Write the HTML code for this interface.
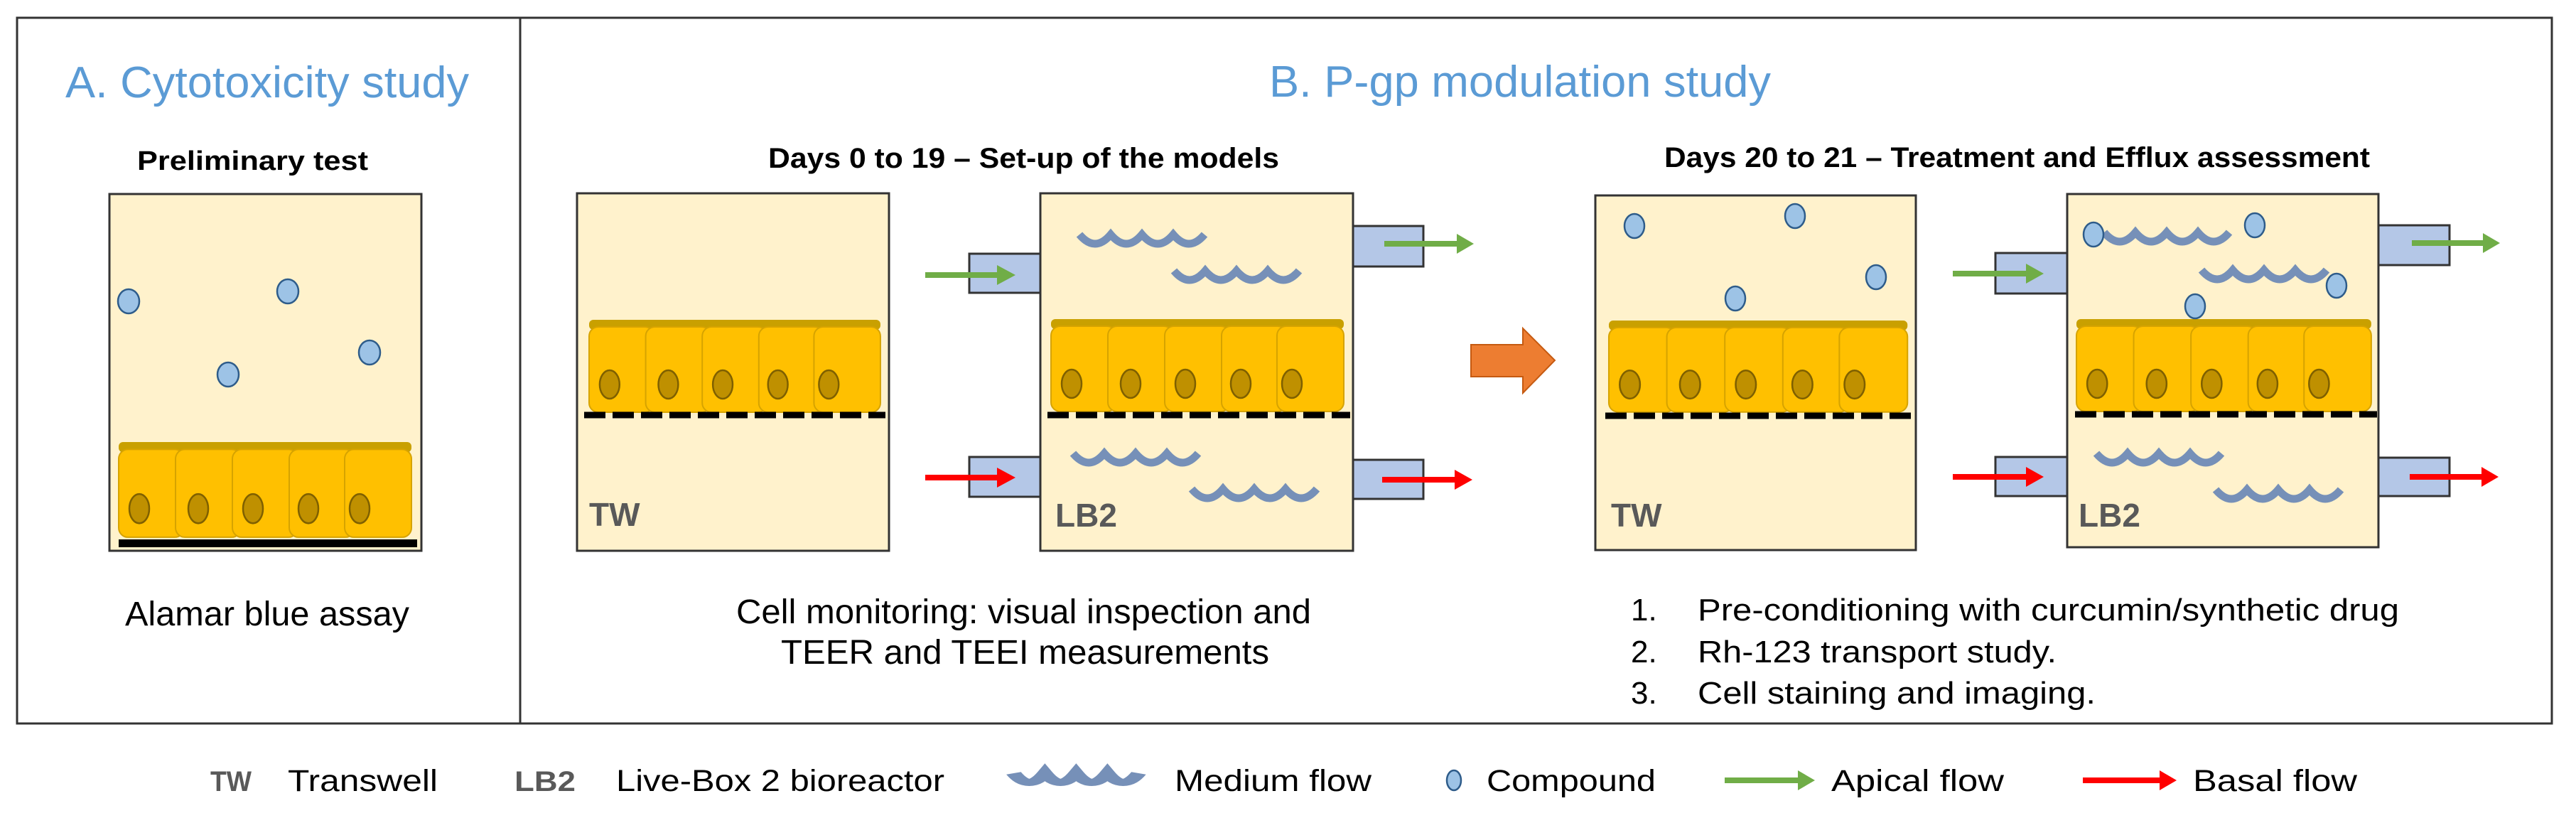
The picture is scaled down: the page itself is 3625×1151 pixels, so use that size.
<!DOCTYPE html>
<html><head><meta charset="utf-8"><style>
html,body{margin:0;padding:0;background:#fff;}
svg{display:block;}
text{font-family:"Liberation Sans",Arial,sans-serif;}
</style></head><body>
<svg width="3625" height="1151" viewBox="0 0 3625 1151" xmlns="http://www.w3.org/2000/svg">
<defs>
  <g id="cells">
    <rect x="0" y="0" width="412" height="14" rx="6" fill="#C9A000"/>
    <rect x="0" y="10" width="92" height="120" rx="13" fill="#FFC000" stroke="#D6A300" stroke-width="2"/>
    <rect x="80" y="10" width="92" height="120" rx="13" fill="#FFC000" stroke="#D6A300" stroke-width="2"/>
    <rect x="160" y="10" width="92" height="120" rx="13" fill="#FFC000" stroke="#D6A300" stroke-width="2"/>
    <rect x="240" y="10" width="92" height="120" rx="13" fill="#FFC000" stroke="#D6A300" stroke-width="2"/>
    <rect x="318" y="10" width="94" height="120" rx="13" fill="#FFC000" stroke="#D6A300" stroke-width="2"/>
    <g fill="#BF9000" stroke="#7F6000" stroke-width="2.5">
      <ellipse cx="29" cy="91" rx="14" ry="20"/>
      <ellipse cx="112" cy="91" rx="14" ry="20"/>
      <ellipse cx="189" cy="91" rx="14" ry="20"/>
      <ellipse cx="267" cy="91" rx="14" ry="20"/>
      <ellipse cx="339" cy="91" rx="14" ry="20"/>
    </g>
  </g>
  <path id="wave" d="M2,4 Q24,30 46,4 Q68,30 90,4 Q112,30 134,4 Q156,30 178,4" fill="none" stroke="#7690B8" stroke-width="11"/>
  <path id="wave2" d="M2,2 Q12,28 22,2 Q32,28 42,2 Q52,28 62,2 Q72,28 82,2" fill="none" stroke="#7690B8" stroke-width="10"/>
</defs>

<rect x="24" y="25" width="3567" height="993" fill="none" stroke="#333" stroke-width="3"/>
<line x1="732" y1="25" x2="732" y2="1018" stroke="#333" stroke-width="3"/>

<text x="92" y="137" font-size="62" fill="#5B9BD5" textLength="568" lengthAdjust="spacingAndGlyphs">A. Cytotoxicity study</text>
<text x="1786" y="136" font-size="62" fill="#5B9BD5" textLength="706" lengthAdjust="spacingAndGlyphs">B. P-gp modulation study</text>
<text x="193" y="239" font-size="38" font-weight="bold" fill="#000" textLength="325" lengthAdjust="spacingAndGlyphs">Preliminary test</text>
<text x="1081" y="236" font-size="40" font-weight="bold" fill="#000" textLength="719" lengthAdjust="spacingAndGlyphs">Days 0 to 19 – Set-up of the models</text>
<text x="2342" y="235" font-size="40" font-weight="bold" fill="#000" textLength="993" lengthAdjust="spacingAndGlyphs">Days 20 to 21 – Treatment and Efflux assessment</text>

<rect x="154" y="273" width="439" height="502" fill="#FFF2CC" stroke="#333" stroke-width="3"/>
<use href="#cells" transform="translate(167,622) scale(1.0,1.03)"/>
<rect x="167" y="759" width="420" height="11" fill="#000"/>
<g fill="#9DC3E6" stroke="#2E5C8A" stroke-width="2.5">
  <ellipse cx="181" cy="424" rx="15" ry="17"/>
  <ellipse cx="405" cy="410" rx="15" ry="17"/>
  <ellipse cx="321" cy="527" rx="15" ry="17"/>
  <ellipse cx="520" cy="496" rx="15" ry="17"/>
</g>
<text x="176" y="880" font-size="48" fill="#000" textLength="400" lengthAdjust="spacingAndGlyphs">Alamar blue assay</text>

<rect x="812" y="272" width="439" height="503" fill="#FFF2CC" stroke="#333" stroke-width="3"/>
<use href="#cells" transform="translate(829,450) scale(0.995,1)"/>
<line x1="822" y1="584" x2="1246" y2="584" stroke="#000" stroke-width="9" stroke-dasharray="30 10"/>
<text x="829" y="740" font-size="46" font-weight="bold" fill="#595959">TW</text>

<rect x="1364" y="357" width="100" height="55" fill="#B4C7E7" stroke="#333" stroke-width="3"/>
<rect x="1364" y="643" width="100" height="56" fill="#B4C7E7" stroke="#333" stroke-width="3"/>
<rect x="1903" y="318" width="100" height="57" fill="#B4C7E7" stroke="#333" stroke-width="3"/>
<rect x="1903" y="647" width="100" height="55" fill="#B4C7E7" stroke="#333" stroke-width="3"/>
<rect x="1464" y="272" width="440" height="503" fill="#FFF2CC" stroke="#333" stroke-width="3"/>
<use href="#wave" transform="translate(1517,326)"/>
<use href="#wave" transform="translate(1650,377)"/>
<use href="#wave" transform="translate(1508,634)"/>
<use href="#wave" transform="translate(1675,684)"/>
<use href="#cells" transform="translate(1479,449)"/>
<line x1="1474" y1="584" x2="1900" y2="584" stroke="#000" stroke-width="9" stroke-dasharray="30 10"/>
<text x="1485" y="741" font-size="46" font-weight="bold" fill="#595959">LB2</text>

<line x1="1302" y1="387" x2="1408" y2="387" stroke="#70AD47" stroke-width="8"/>
<polygon points="1403,373 1429,387 1403,401" fill="#70AD47"/>
<line x1="1302" y1="672" x2="1408" y2="672" stroke="#FF0000" stroke-width="8"/>
<polygon points="1403,658 1429,672 1403,686" fill="#FF0000"/>
<line x1="1948" y1="343" x2="2052" y2="343" stroke="#70AD47" stroke-width="8"/>
<polygon points="2050,329 2074,343 2050,357" fill="#70AD47"/>
<line x1="1945" y1="675" x2="2050" y2="675" stroke="#FF0000" stroke-width="8"/>
<polygon points="2047,661 2072,675 2047,689" fill="#FF0000"/>

<polygon points="2070,485 2143,485 2143,462 2188,507 2143,553 2143,530 2070,530" fill="#ED7D31" stroke="#C55A11" stroke-width="2"/>

<rect x="2245" y="275" width="451" height="499" fill="#FFF2CC" stroke="#333" stroke-width="3"/>
<use href="#cells" transform="translate(2264,451) scale(1.02,0.99)"/>
<line x1="2259" y1="585" x2="2694" y2="585" stroke="#000" stroke-width="9" stroke-dasharray="30 10"/>
<text x="2267" y="741" font-size="46" font-weight="bold" fill="#595959">TW</text>
<g fill="#9DC3E6" stroke="#2E5C8A" stroke-width="2.5">
  <ellipse cx="2300" cy="318" rx="14" ry="17"/>
  <ellipse cx="2526" cy="304" rx="14" ry="17"/>
  <ellipse cx="2640" cy="390" rx="14" ry="17"/>
  <ellipse cx="2442" cy="420" rx="14" ry="17"/>
</g>

<rect x="2808" y="356" width="101" height="57" fill="#B4C7E7" stroke="#333" stroke-width="3"/>
<rect x="2808" y="643" width="101" height="55" fill="#B4C7E7" stroke="#333" stroke-width="3"/>
<rect x="3347" y="317" width="100" height="56" fill="#B4C7E7" stroke="#333" stroke-width="3"/>
<rect x="3347" y="644" width="100" height="54" fill="#B4C7E7" stroke="#333" stroke-width="3"/>
<rect x="2909" y="273" width="438" height="497" fill="#FFF2CC" stroke="#333" stroke-width="3"/>
<use href="#wave" transform="translate(2959,323)"/>
<use href="#wave" transform="translate(3096,376)"/>
<use href="#wave" transform="translate(2948,634)"/>
<use href="#wave" transform="translate(3116,685)"/>
<use href="#cells" transform="translate(2922,449) scale(1.007,1)"/>
<line x1="2920" y1="583" x2="3345" y2="583" stroke="#000" stroke-width="9" stroke-dasharray="30 10"/>
<text x="2925" y="741" font-size="46" font-weight="bold" fill="#595959">LB2</text>
<g fill="#9DC3E6" stroke="#2E5C8A" stroke-width="2.5">
  <ellipse cx="2946" cy="330" rx="14" ry="17"/>
  <ellipse cx="3173" cy="317" rx="14" ry="17"/>
  <ellipse cx="3288" cy="402" rx="14" ry="17"/>
  <ellipse cx="3089" cy="431" rx="14" ry="17"/>
</g>
<line x1="2748" y1="385" x2="2855" y2="385" stroke="#70AD47" stroke-width="8"/>
<polygon points="2851,371 2876,385 2851,399" fill="#70AD47"/>
<line x1="2748" y1="671" x2="2855" y2="671" stroke="#FF0000" stroke-width="8"/>
<polygon points="2851,657 2876,671 2851,685" fill="#FF0000"/>
<line x1="3394" y1="342" x2="3497" y2="342" stroke="#70AD47" stroke-width="8"/>
<polygon points="3494,328 3518,342 3494,356" fill="#70AD47"/>
<line x1="3391" y1="671" x2="3495" y2="671" stroke="#FF0000" stroke-width="8"/>
<polygon points="3492,657 3516,671 3492,685" fill="#FF0000"/>

<text x="1036" y="877" font-size="48" fill="#000" textLength="809" lengthAdjust="spacingAndGlyphs">Cell monitoring: visual inspection and</text>
<text x="1099" y="934" font-size="48" fill="#000" textLength="687" lengthAdjust="spacingAndGlyphs">TEER and TEEI measurements</text>
<text x="2295" y="873" font-size="44" fill="#000">1.</text>
<text x="2389" y="873" font-size="44" fill="#000" textLength="987" lengthAdjust="spacingAndGlyphs">Pre-conditioning with curcumin/synthetic drug</text>
<text x="2295" y="932" font-size="44" fill="#000">2.</text>
<text x="2389" y="932" font-size="44" fill="#000" textLength="505" lengthAdjust="spacingAndGlyphs">Rh-123 transport study.</text>
<text x="2295" y="990" font-size="44" fill="#000">3.</text>
<text x="2389" y="990" font-size="44" fill="#000" textLength="560" lengthAdjust="spacingAndGlyphs">Cell staining and imaging.</text>

<text x="296" y="1113" font-size="40" font-weight="bold" fill="#595959" textLength="58" lengthAdjust="spacingAndGlyphs">TW</text>
<text x="405" y="1113" font-size="43" fill="#000" textLength="211" lengthAdjust="spacingAndGlyphs">Transwell</text>
<text x="724" y="1113" font-size="40" font-weight="bold" fill="#595959" textLength="86" lengthAdjust="spacingAndGlyphs">LB2</text>
<text x="867" y="1113" font-size="43" fill="#000" textLength="462" lengthAdjust="spacingAndGlyphs">Live-Box 2 bioreactor</text>
<use href="#wave2" transform="translate(1422,1086) scale(2.2,1)"/>
<text x="1653" y="1113" font-size="43" fill="#000" textLength="277" lengthAdjust="spacingAndGlyphs">Medium flow</text>
<ellipse cx="2046" cy="1098" rx="10" ry="14" fill="#9DC3E6" stroke="#2E5C8A" stroke-width="2.5"/>
<text x="2092" y="1113" font-size="43" fill="#000" textLength="238" lengthAdjust="spacingAndGlyphs">Compound</text>
<line x1="2427" y1="1098" x2="2535" y2="1098" stroke="#70AD47" stroke-width="8"/>
<polygon points="2530,1084 2554,1098 2530,1112" fill="#70AD47"/>
<text x="2577" y="1113" font-size="43" fill="#000" textLength="243" lengthAdjust="spacingAndGlyphs">Apical flow</text>
<line x1="2931" y1="1098" x2="3043" y2="1098" stroke="#FF0000" stroke-width="8"/>
<polygon points="3039,1084 3063,1098 3039,1112" fill="#FF0000"/>
<text x="3086" y="1113" font-size="43" fill="#000" textLength="231" lengthAdjust="spacingAndGlyphs">Basal flow</text>
</svg>
</body></html>
